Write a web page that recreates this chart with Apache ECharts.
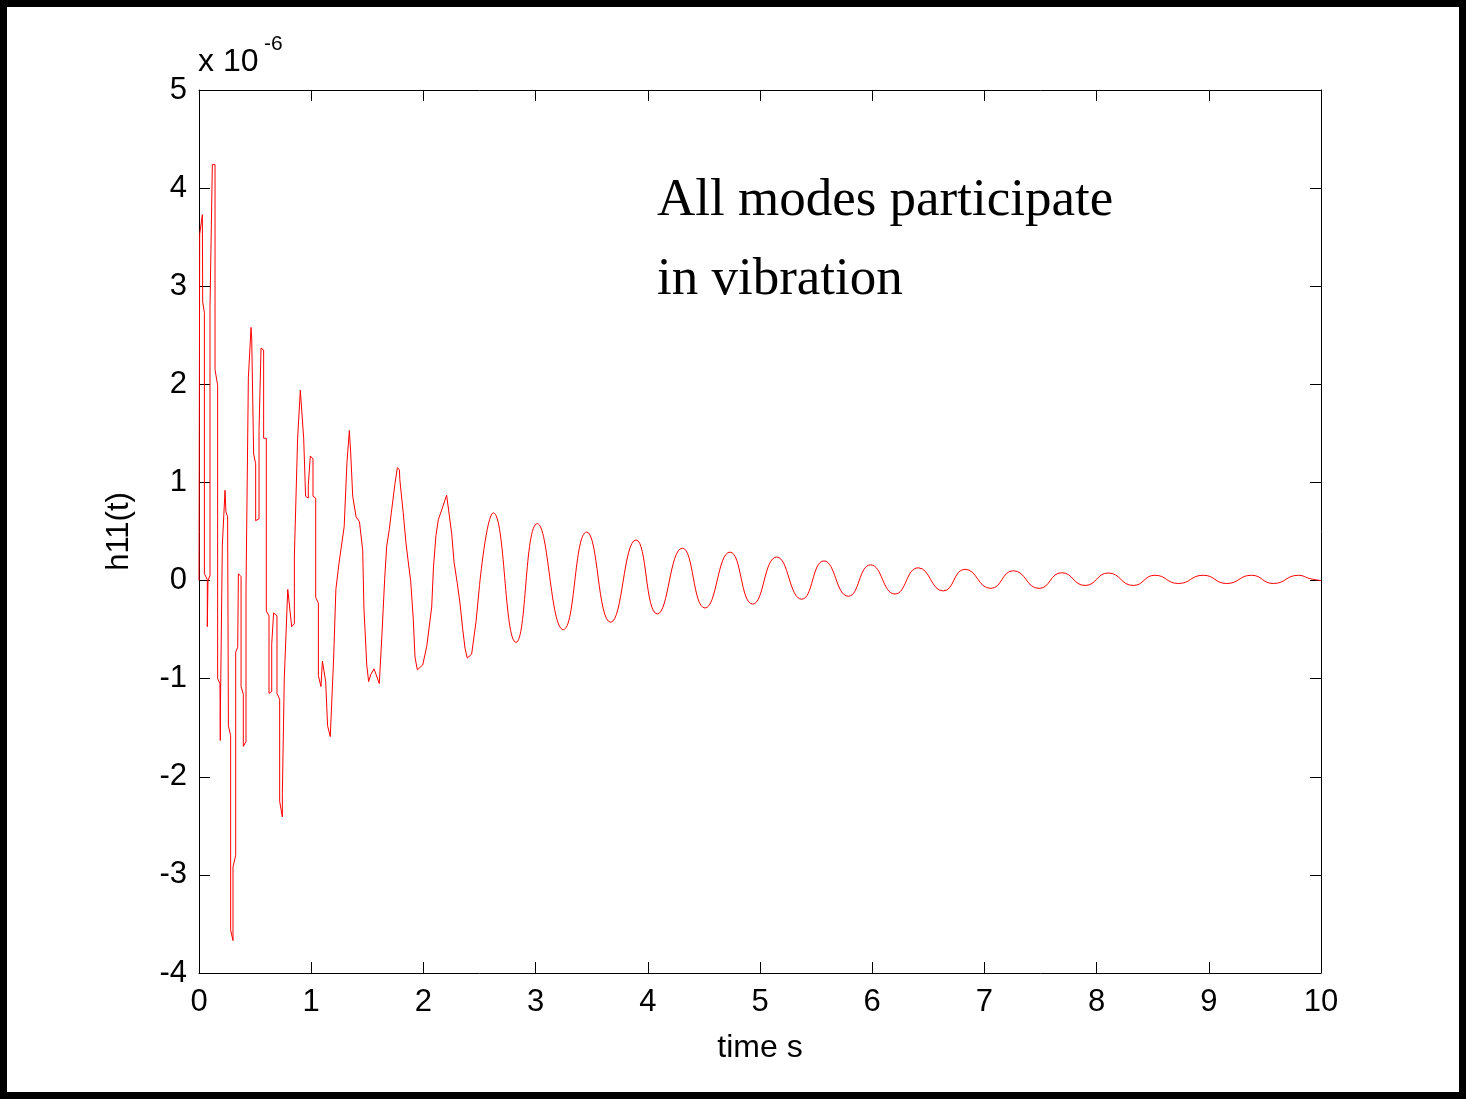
<!DOCTYPE html>
<html>
<head>
<meta charset="utf-8">
<script src="https://cdn.jsdelivr.net/npm/echarts@6/dist/echarts.min.js"></script>
<style>
    html, body { margin: 0; padding: 0; background: #fff; }
    #chart { position: absolute; left: 0; top: 0; width: 1466px; height: 1099px; }
    #frame {
        position: absolute; left: 0; top: 0; width: 1466px; height: 1099px;
        box-sizing: border-box; border: 7px solid #000; pointer-events: none;
    }
</style>
</head>
<body>
<div id="chart"></div>
<div id="frame"></div>
<script>
// time in seconds
var timeS = [
    0, 0.006, 0.03, 0.033, 0.048, 0.048, 0.074, 0.074, 0.08, 0.098,
    0.098, 0.119, 0.143, 0.143, 0.166, 0.166, 0.187, 0.19, 0.19, 0.208,
    0.232, 0.24, 0.255, 0.262, 0.282, 0.282, 0.303, 0.303, 0.327, 0.327,
    0.345, 0.351, 0.375, 0.375, 0.395, 0.395, 0.419, 0.419, 0.44, 0.464,
    0.47, 0.487, 0.505, 0.505, 0.535, 0.535, 0.553, 0.576, 0.576, 0.6,
    0.6, 0.624, 0.624, 0.648, 0.648, 0.665, 0.695, 0.695, 0.719, 0.719,
    0.743, 0.743, 0.76, 0.791, 0.808, 0.826, 0.85, 0.85, 0.879, 0.903,
    0.92, 0.933, 0.95, 0.95, 0.974, 0.974, 0.992, 1.016, 1.016, 1.04,
    1.04, 1.064, 1.064, 1.087, 1.1, 1.129, 1.146, 1.146, 1.17, 1.2,
    1.22, 1.247, 1.294, 1.318, 1.34, 1.352, 1.37, 1.4, 1.43, 1.459,
    1.47, 1.495, 1.512, 1.53, 1.56, 1.607, 1.631, 1.655, 1.673, 1.696,
    1.714, 1.747, 1.768, 1.786, 1.79, 1.82, 1.845, 1.865, 1.887, 1.91,
    1.925, 1.946, 1.994, 2.03, 2.074, 2.09, 2.112, 2.133, 2.163, 2.207,
    2.252, 2.273, 2.302, 2.326, 2.35, 2.371, 2.391, 2.43, 2.469, 2.5,
    2.623, 2.825, 3.015, 3.247, 3.455, 3.669, 3.895, 4.085, 4.308, 4.51,
    4.733, 4.935, 5.149, 5.372, 5.57, 5.787, 5.986, 6.203, 6.41, 6.633,
    6.827, 7.056, 7.258, 7.487, 7.689, 7.897, 8.104, 8.327, 8.52, 8.728,
    8.95, 9.16, 9.38, 9.575, 9.8, 9.9, 10
];

// h11(t), in units of 1e-6
var h11 = [
    0, 3.53, 3.73, 2.84, 2.73, 0.07, 0.01, -0.47, 0, 0.05,
    2.78, 4.24, 4.24, 2.15, 1.99, -1.0, -1.05, -1.63, -1.4, 0.36,
    0.92, 0.7, 0.65, -1.48, -1.58, -3.56, -3.67, -2.92, -2.8, -0.73,
    -0.68, 0.07, 0.04, -1.08, -1.16, -1.69, -1.64, -0.09, 2.07, 2.58,
    2.46, 1.29, 1.19, 0.61, 0.63, 1.53, 2.37, 2.35, 1.45, 1.45,
    -0.31, -0.36, -1.15, -1.13, -0.65, -0.33, -0.36, -1.15, -1.21, -2.25,
    -2.41, -2.17, -1.0, -0.09, -0.07, -0.47, -0.44, 0.25, 1.45, 1.94,
    1.93, 1.45, 1.43, 0.86, 0.84, 0.97, 1.27, 1.24, 0.86, 0.84,
    -0.17, -0.23, -0.97, -1.08, -0.82, -1.03, -1.05, -1.48, -1.59, -0.79,
    -0.09, 0.17, 0.55, 1.19, 1.53, 1.3, 0.86, 0.65, 0.6, 0.31,
    -0.28, -0.86, -1.03, -0.96, -0.9, -1.05, -0.54, 0.02, 0.35, 0.52,
    0.69, 0.99, 1.15, 1.13, 1.03, 0.69, 0.38, 0.19, -0.01, -0.4,
    -0.78, -0.91, -0.86, -0.67, -0.27, 0.14, 0.46, 0.62, 0.72, 0.87,
    0.48, 0.19, -0.03, -0.23, -0.49, -0.69, -0.79, -0.75, -0.42, -0.05,
    0.69, -0.63, 0.58, -0.5, 0.495, -0.425, 0.414, -0.34, 0.33, -0.28,
    0.29, -0.24, 0.24, -0.19, 0.2, -0.16, 0.16, -0.137, 0.13, -0.106,
    0.115, -0.08, 0.1, -0.08, 0.08, -0.05, 0.077, -0.05, 0.054, -0.03,
    0.054, -0.03, 0.054, -0.03, 0.054, 0.02, 0
];

// first index of the slowly decaying part (drawn smoothed)
var tailStart = 139;

var chart = echarts.init(document.getElementById('chart'));

var points = timeS.map(function (t, i) { return [t, h11[i]]; });
var headPoints = points.slice(0, tailStart + 1);
var tailPoints = points.slice(tailStart);

var sansFont = '"Liberation Sans", Arial, Helvetica, sans-serif';

function boxAxis(extra) {
    var axis = {
        type: 'value',
        axisLine: { show: true, onZero: false, lineStyle: { color: '#000', width: 1 } },
        axisTick: { show: true, inside: true, length: 11, lineStyle: { color: '#000', width: 1 } },
        splitLine: { show: false }
    };
    for (var k in extra) axis[k] = extra[k];
    return axis;
}

var option = {
    backgroundColor: '#fff',
    animation: false,
    grid: { left: 199, right: 145, top: 90, bottom: 126, containLabel: false },
    xAxis: [
        boxAxis({
            min: 0, max: 10, interval: 1, position: 'bottom',
            name: 'time s', nameLocation: 'middle', nameGap: 59,
            nameTextStyle: { fontFamily: sansFont, fontSize: 32, color: '#000' },
            axisLabel: { fontFamily: sansFont, fontSize: 31, color: '#000', margin: 14 }
        }),
        boxAxis({
            min: 0, max: 10, interval: 1, position: 'top',
            axisLabel: { show: false }
        })
    ],
    yAxis: [
        boxAxis({
            min: -4, max: 5, interval: 1, position: 'left',
            name: 'h11(t)', nameLocation: 'middle', nameGap: 64,
            nameTextStyle: { fontFamily: sansFont, fontSize: 31, color: '#000' },
            axisLabel: { fontFamily: sansFont, fontSize: 31, color: '#000', margin: 12 }
        }),
        boxAxis({
            min: -4, max: 5, interval: 1, position: 'right',
            axisLabel: { show: false }
        })
    ],
    graphic: [
        {
            type: 'text', left: 198, top: 46,
            style: { text: 'x 10', font: '32px ' + sansFont, fill: '#000' }
        },
        {
            type: 'text', left: 264, top: 34,
            style: { text: '-6', font: '21px ' + sansFont, fill: '#000' }
        },
        {
            type: 'text', left: 657, top: 162,
            style: {
                text: 'All modes participate\nin vibration',
                font: '53px "Liberation Serif", "Times New Roman", serif',
                lineHeight: 79,
                fill: '#000'
            }
        }
    ],
    series: [
        {
            type: 'line',
            xAxisIndex: 0,
            yAxisIndex: 0,
            data: headPoints,
            symbol: 'none',
            lineStyle: { color: '#ff0000', width: 1 },
            z: 3
        },
        {
            type: 'line',
            xAxisIndex: 0,
            yAxisIndex: 0,
            data: tailPoints,
            symbol: 'none',
            smooth: 0.5,
            lineStyle: { color: '#ff0000', width: 1 },
            z: 3
        }
    ]
};

chart.setOption(option);
</script>
</body>
</html>
